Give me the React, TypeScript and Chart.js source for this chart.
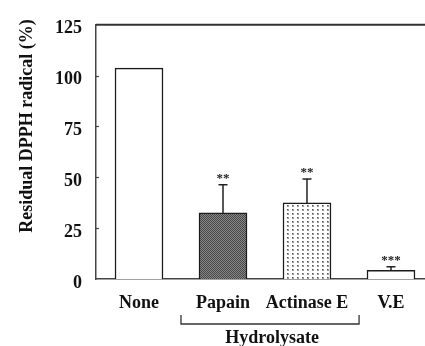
import React, { useEffect, useRef } from "react";
import { Chart, registerables } from "chart.js";
Chart.register(...registerables);

const categories = ["None", "Papain", "Actinase E", "V.E"];
const means = [103.7, 32.5, 37.4, 4.3];
const sds = [0, 13.9, 11.8, 1.7];
const significance = ["", "**", "**", "***"];
const yTicks = [0, 25, 50, 75, 100, 125];
const groupLabel = "Hydrolysate";
const groupMembers = [1, 2];
const yTitle = "Residual DPPH radical (%)";

const FONT = "'Liberation Serif', 'Times New Roman', serif";

function makePattern(kind: string): CanvasPattern | string {
  const c = document.createElement("canvas");
  const ctx = c.getContext("2d");
  if (!ctx) return "#777";
  if (kind === "dark") {
    c.width = 2; c.height = 2;
    ctx.fillStyle = "#878787"; ctx.fillRect(0, 0, 2, 2);
    ctx.fillStyle = "#474747"; ctx.fillRect(0, 0, 1, 1); ctx.fillRect(1, 1, 1, 1);
  } else {
    c.width = 5; c.height = 4;
    ctx.fillStyle = "#ffffff"; ctx.fillRect(0, 0, 5, 4);
    ctx.fillStyle = "#9a9a9a"; ctx.fillRect(2, 1, 2, 2);
    ctx.fillStyle = "#555555"; ctx.fillRect(2, 1, 1, 1);
  }
  return ctx.createPattern(c, "repeat") || "#777";
}

export default function App() {
  const ref = useRef<HTMLCanvasElement>(null);
  useEffect(() => {
    if (!ref.current) return;
    const fills = ["#ffffff", makePattern("dark"), makePattern("dots"), "#ffffff"];
    const extras = {
      id: "extras",
      afterDraw(chart: any) {
        const ctx = chart.ctx;
        const ca = chart.chartArea;
        const ys = chart.scales.y;
        const xs = chart.scales.x;
        const meta = chart.getDatasetMeta(0);
        ctx.save();
        // top border line
        ctx.strokeStyle = "#333";
        ctx.lineWidth = 2;
        ctx.beginPath();
        ctx.moveTo(ca.left, ca.top);
        ctx.lineTo(chart.width, ca.top);
        ctx.stroke();
        // inner tick marks
        ctx.lineWidth = 1.2;
        ctx.strokeStyle = "#444";
        yTicks.forEach((t) => {
          if (t === 0 || t === 125) return;
          const py = Math.round(ys.getPixelForValue(t)) + 0.5;
          ctx.beginPath();
          ctx.moveTo(ca.left, py);
          ctx.lineTo(ca.left + 3, py);
          ctx.stroke();
        });
        // error bars and stars
        meta.data.forEach((el: any, i: number) => {
          const x = el.x;
          if (sds[i] > 0) {
            const top = ys.getPixelForValue(means[i]);
            const et = ys.getPixelForValue(means[i] + sds[i]);
            ctx.strokeStyle = "#222";
            ctx.lineWidth = 1.5;
            ctx.beginPath();
            ctx.moveTo(x, top);
            ctx.lineTo(x, et);
            ctx.moveTo(x - 4.5, et);
            ctx.lineTo(x + 4.5, et);
            ctx.stroke();
            if (significance[i]) {
              ctx.fillStyle = "#222";
              ctx.font = `bold 13px ${FONT}`;
              ctx.textAlign = "center";
              ctx.textBaseline = "alphabetic";
              ctx.fillText(significance[i], x, et - 3);
            }
          }
        });
        // group bracket
        const unit = xs.getPixelForValue(1) - xs.getPixelForValue(0);
        const l = xs.getPixelForValue(groupMembers[0]) - 0.5 * unit;
        const r = xs.getPixelForValue(groupMembers[groupMembers.length - 1]) + 0.62 * unit;
        const by = 324;
        ctx.strokeStyle = "#333";
        ctx.lineWidth = 1.3;
        ctx.beginPath();
        ctx.moveTo(l, by - 9);
        ctx.lineTo(l, by);
        ctx.lineTo(r, by);
        ctx.lineTo(r, by - 9);
        ctx.stroke();
        ctx.fillStyle = "#111";
        ctx.font = `bold 18px ${FONT}`;
        ctx.textAlign = "center";
        ctx.textBaseline = "middle";
        ctx.fillText(groupLabel, (l + r) / 2 + 2, 338);
        // y title
        ctx.translate(27, 126);
        ctx.rotate(-Math.PI / 2);
        ctx.fillText(yTitle, 0, 0);
        ctx.restore();
      },
    };
    const chart = new Chart(ref.current, {
      type: "bar",
      data: {
        datasets: [
          {
            data: means.map((v, i) => ({ x: i, y: v })),
            backgroundColor: fills as any,
            borderColor: "#1a1a1a",
            borderWidth: 1.5,
            borderSkipped: "bottom",
            barThickness: 48,
          },
        ],
      },
      options: {
        animation: false,
        responsive: false,
        events: [],
        layout: { padding: { left: 0, right: 0, top: 15, bottom: 0 } },
        plugins: { legend: { display: false }, tooltip: { enabled: false } },
        scales: {
          x: {
            type: "linear",
            offset: false,
            min: -0.512,
            max: 3.405,
            afterBuildTicks: (s: any) => {
              s.ticks = categories.map((_, i) => ({ value: i }));
            },
            afterFit: (s: any) => {
              s.height = 67;
            },
            grid: { display: false, drawTicks: false, offset: false },
            border: { display: true, color: "#444", width: 1.5 },
            ticks: {
              autoSkip: false,
              maxRotation: 0,
              padding: 14,
              color: "#111",
              font: { family: FONT, size: 18, weight: "bold" },
              callback: (v: any) => categories[Math.round(v)],
            },
          },
          y: {
            min: 0,
            max: 125,
            afterBuildTicks: (s: any) => {
              s.ticks = yTicks.map((v) => ({ value: v }));
            },
            afterFit: (s: any) => {
              s.width = 96;
            },
            grid: { display: false, drawTicks: false },
            border: { display: true, color: "#444", width: 1.5 },
            ticks: {
              padding: 14,
              labelOffset: 4,
              color: "#111",
              font: { family: FONT, size: 18, weight: "bold" },
            },
          },
        },
      },
      plugins: [extras],
    } as any);
    return () => chart.destroy();
  }, []);
  return (
    <div style={{ position: "absolute", left: 0, top: 0, width: 425, height: 346, background: "#fff" }}>
      <canvas ref={ref} width={425} height={346} style={{ display: "block" }} />
    </div>
  );
}
